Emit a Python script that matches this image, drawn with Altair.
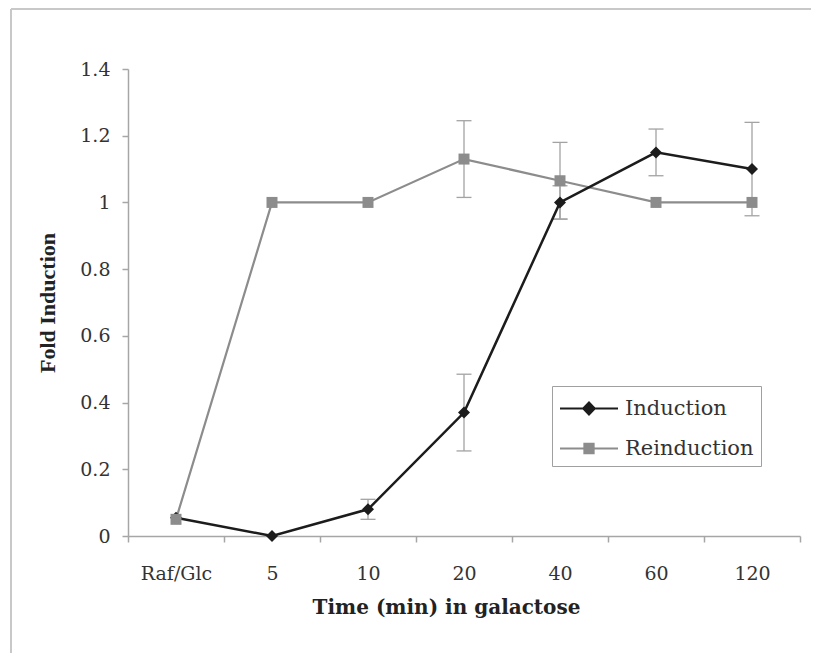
import altair as alt
import pandas as pd

categories = ["Raf/Glc", "5", "10", "20", "40", "60", "120"]
series_names = ["Induction", "Reinduction"]
induction = [0.055, 0.0, 0.08, 0.37, 1.0, 1.15, 1.10]
induction_err = [0.0, 0.0, 0.03, 0.115, 0.05, 0.07, 0.14]
reinduction = [0.05, 1.0, 1.0, 1.13, 1.065, 1.0, 1.0]
reinduction_err = [0.0, 0.0, 0.0, 0.115, 0.115, 0.0, 0.0]
y_ticks = [0, 0.2, 0.4, 0.6, 0.8, 1.0, 1.2, 1.4]

rows = []
for name, vals, errs in [("Induction", induction, induction_err),
                         ("Reinduction", reinduction, reinduction_err)]:
    for c, v, e in zip(categories, vals, errs):
        rows.append({"time": c, "series": name, "value": v, "err": e,
                     "lo": v - e, "hi": v + e})
df = pd.DataFrame(rows)

SERIF = "DejaVu Serif"
AXIS_GRAY = "#a6a6a6"
DARK = "#1c1c1c"
GRAY = "#8c8c8c"
ERR = "#a3a3a3"

x_enc = alt.X(
    "time:N",
    sort=categories,
    scale=alt.Scale(type="band", domain=categories, paddingInner=0, paddingOuter=0),
    axis=alt.Axis(
        title="Time (min) in galactose", labelAngle=0, tickBand="extent",
        domainColor=AXIS_GRAY, domainWidth=1.5, tickColor=AXIS_GRAY, tickWidth=1.5,
        tickSize=6, grid=False, labelFont=SERIF, labelFontSize=19,
        labelColor="#333333", labelPadding=22, titleFont=SERIF,
        titleFontWeight="bold", titleFontSize=20, titleColor="#222222",
        titlePadding=14, titleX=318,
    ),
)
y_scale = alt.Scale(domain=[0, 1.4], nice=False, zero=True)
y_axis = alt.Axis(
    title="Fold Induction", values=y_ticks, format="~g", grid=False,
    domainColor=AXIS_GRAY, domainWidth=1.5, tickColor=AXIS_GRAY, tickWidth=1.5,
    tickSize=6, labelFont=SERIF, labelFontSize=19, labelColor="#333333",
    labelPadding=12, titleFont="Liberation Serif", titleFontWeight="bold",
    titleFontSize=22, titleColor="#222222", titlePadding=20,
)
base = alt.Chart(df)

frame = alt.Chart(alt.Data(values=[{"k": 1}]))
frame_left = frame.mark_rule(color="#c8c8c8", strokeWidth=2).encode(
    x=alt.value(-117), x2=alt.value(-117), y=alt.value(-60), y2=alt.value(600))
frame_top = frame.mark_rule(color="#c8c8c8", strokeWidth=2).encode(
    x=alt.value(-117), x2=alt.value(683), y=alt.value(-60), y2=alt.value(-60))

err_df = base.transform_filter("datum.err > 0")
err_rules = err_df.mark_rule(color=ERR, strokeWidth=1.3).encode(
    x=x_enc, y=alt.Y("lo:Q", scale=y_scale, axis=y_axis), y2="hi:Q")
err_lo = err_df.mark_tick(color=ERR, size=15, thickness=1.3, opacity=1).encode(
    x=x_enc, y=alt.Y("lo:Q", scale=y_scale, axis=y_axis))
err_hi = err_df.mark_tick(color=ERR, size=15, thickness=1.3, opacity=1).encode(
    x=x_enc, y=alt.Y("hi:Q", scale=y_scale, axis=y_axis))

y_val = alt.Y("value:Q", scale=y_scale, axis=y_axis)

re_line = base.transform_filter("datum.series == 'Reinduction'").mark_line(
    color=GRAY, strokeWidth=2.2).encode(x=x_enc, y=y_val)
re_pts = base.transform_filter("datum.series == 'Reinduction'").mark_point(
    filled=True, shape="square", size=121, color=GRAY, opacity=1).encode(x=x_enc, y=y_val)
in_line = base.transform_filter("datum.series == 'Induction'").mark_line(
    color=DARK, strokeWidth=2.5).encode(x=x_enc, y=y_val)
in_pts = base.transform_filter("datum.series == 'Induction'").mark_point(
    filled=True, shape="diamond", size=144, color=DARK, opacity=1).encode(x=x_enc, y=y_val)

path_ind = "M-1,0H3M0.6,0L1,-0.42L1.4,0L1,0.42Z"
path_re = "M-1,0H3M0.68,-0.32H1.32V0.32H0.68Z"
leg = alt.Legend(
    title=None, orient="none", legendX=424, legendY=317, padding=7,
    rowPadding=14, symbolSize=841, symbolStrokeWidth=2, labelFont=SERIF,
    labelFontSize=21, labelColor="#333333", labelOffset=35,
    strokeColor="#a0a0a0", fillColor="white",
)
legend_layer = base.mark_point(filled=True, clip=True, opacity=1).encode(
    x=x_enc,
    y=alt.value(-500),
    fill=alt.Fill("series:N", scale=alt.Scale(domain=series_names, range=[DARK, GRAY]), legend=leg),
    stroke=alt.Stroke("series:N", scale=alt.Scale(domain=series_names, range=[DARK, GRAY]), legend=leg),
    shape=alt.Shape("series:N", scale=alt.Scale(domain=series_names, range=[path_ind, path_re]), legend=leg),
)

chart = alt.layer(
    frame_left, frame_top, err_rules, err_lo, err_hi,
    re_line, in_line, in_pts, re_pts, legend_layer,
).properties(
    width=672, height=467,
    padding={"left": 120, "top": 61, "right": 11, "bottom": 117},
    autosize=alt.AutoSizeParams(type="none"),
    background="white",
).configure_view(stroke=None)

chart.save("out.html", embed_options={"renderer": "svg", "actions": False})
